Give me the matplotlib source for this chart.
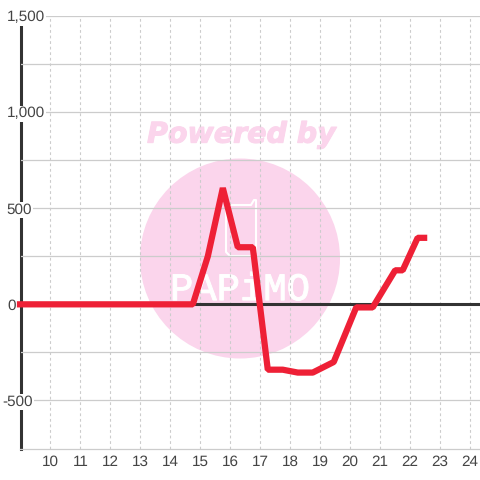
# -*- coding: utf-8 -*-
from matplotlib import pyplot as plt
from matplotlib import patheffects as pe
from matplotlib.patches import Circle

plt.rcParams['font.family'] = ['Liberation Sans', 'DejaVu Sans']
plt.rcParams['text.hinting'] = 'none'

# data
hours = [8.88, 14.75, 15.25, 15.75, 16.25, 16.75, 17.25, 17.75, 18.25, 18.75,
         19.45, 20.2, 20.75, 21.5, 21.75, 22.25, 22.57]
values = [0, 0, 250, 605, 297, 297, -340, -340, -355, -355,
          -300, -16, -16, 177, 177, 346, 346]
x_ticks = list(range(10, 25))
y_major = [-500, 0, 500, 1000, 1500]
y_minor = [-250, 250, 750, 1250]
y_labels = ['-500', '0', '500', '1,000', '1,500']
# left edge of each y label, px: they do not line up on the right in the original
y_label_px = [2, 7.5, 6, 6.5, 6.5]

RED = '#ee2036'
DARK = '#333333'
GRID = '#cccccc'
PINK = '#fbd5ec'
TEXT = '#444444'

fig = plt.figure(figsize=(4.8, 4.8), dpi=100, facecolor='white')

# watermark sits behind the chart, in pixel coordinates
bg = fig.add_axes([0, 0, 1, 1], zorder=0)
bg.set_xlim(0, 480)
bg.set_ylim(480, 0)
bg.axis('off')
bg.add_patch(Circle((240, 258.5), 100, facecolor=PINK, edgecolor='none'))
# cup outline of the logo
bg.plot([230, 251, 254, 256, 256, 252, 230, 226, 226, 230],
        [205, 205, 200, 200, 252, 256, 256, 252, 209, 205],
        color='white', linewidth=1.5, solid_joinstyle='round')
bg.text(241.5, 135, 'Powered by', color=PINK, fontsize=20.5, fontweight='bold',
        fontstyle='italic', family='DejaVu Sans', ha='center', va='center',
        path_effects=[pe.withStroke(linewidth=0.8, foreground=PINK)])
bg.text(240, 290, 'PAPiMO', color='white', fontsize=28, family='Liberation Mono',
        ha='center', va='center',
        path_effects=[pe.withStroke(linewidth=0.7, foreground='white')])

# 20..480 px wide, 16..448.5 px high
ax = fig.add_axes([20.5 / 480, 31.5 / 480, 459.5 / 480, 432.5 / 480], zorder=1)
ax.patch.set_alpha(0)
ax.set_xlim(9.0, 24.33)
ax.set_ylim(-750, 1500)
ax.set_axisbelow(True)

ax.set_xticks(x_ticks)
ax.set_yticks(y_major)
ax.set_yticks(y_minor, minor=True)
ax.set_yticklabels([])

ax.grid(True, axis='y', which='both', color=GRID, linewidth=0.9)
ax.grid(True, axis='x', color=GRID, linewidth=0.8, linestyle=(0, (2.5, 2.5)))

ax.tick_params(axis='both', which='both', length=0)
ax.tick_params(axis='x', labelsize=11, labelcolor=TEXT, pad=5)

for side in ['top', 'right']:
    ax.spines[side].set_visible(False)
ax.spines['bottom'].set_color(GRID)
ax.spines['bottom'].set_linewidth(0.9)
ax.spines['left'].set_color(DARK)
ax.spines['left'].set_linewidth(2.2)
ax.spines['left'].set_zorder(0.2)

# y labels are placed by hand, white box hides the spine and grid behind them
for val, lab, px in zip(y_major, y_labels, y_label_px):
    ax.text((px - 20.5) / 459.5, val, lab, transform=ax.get_yaxis_transform(),
            fontsize=11, color=TEXT, ha='left', va='center_baseline', clip_on=False,
            zorder=1, bbox=dict(facecolor='white', edgecolor='none', pad=0.8))

ax.axhline(0, color=DARK, linewidth=2.2, zorder=1.5)
ax.plot(hours, values, color=RED, linewidth=4.5, solid_joinstyle='bevel',
        solid_capstyle='butt', zorder=2, clip_on=False)

fig.savefig('out.png', dpi=100)
